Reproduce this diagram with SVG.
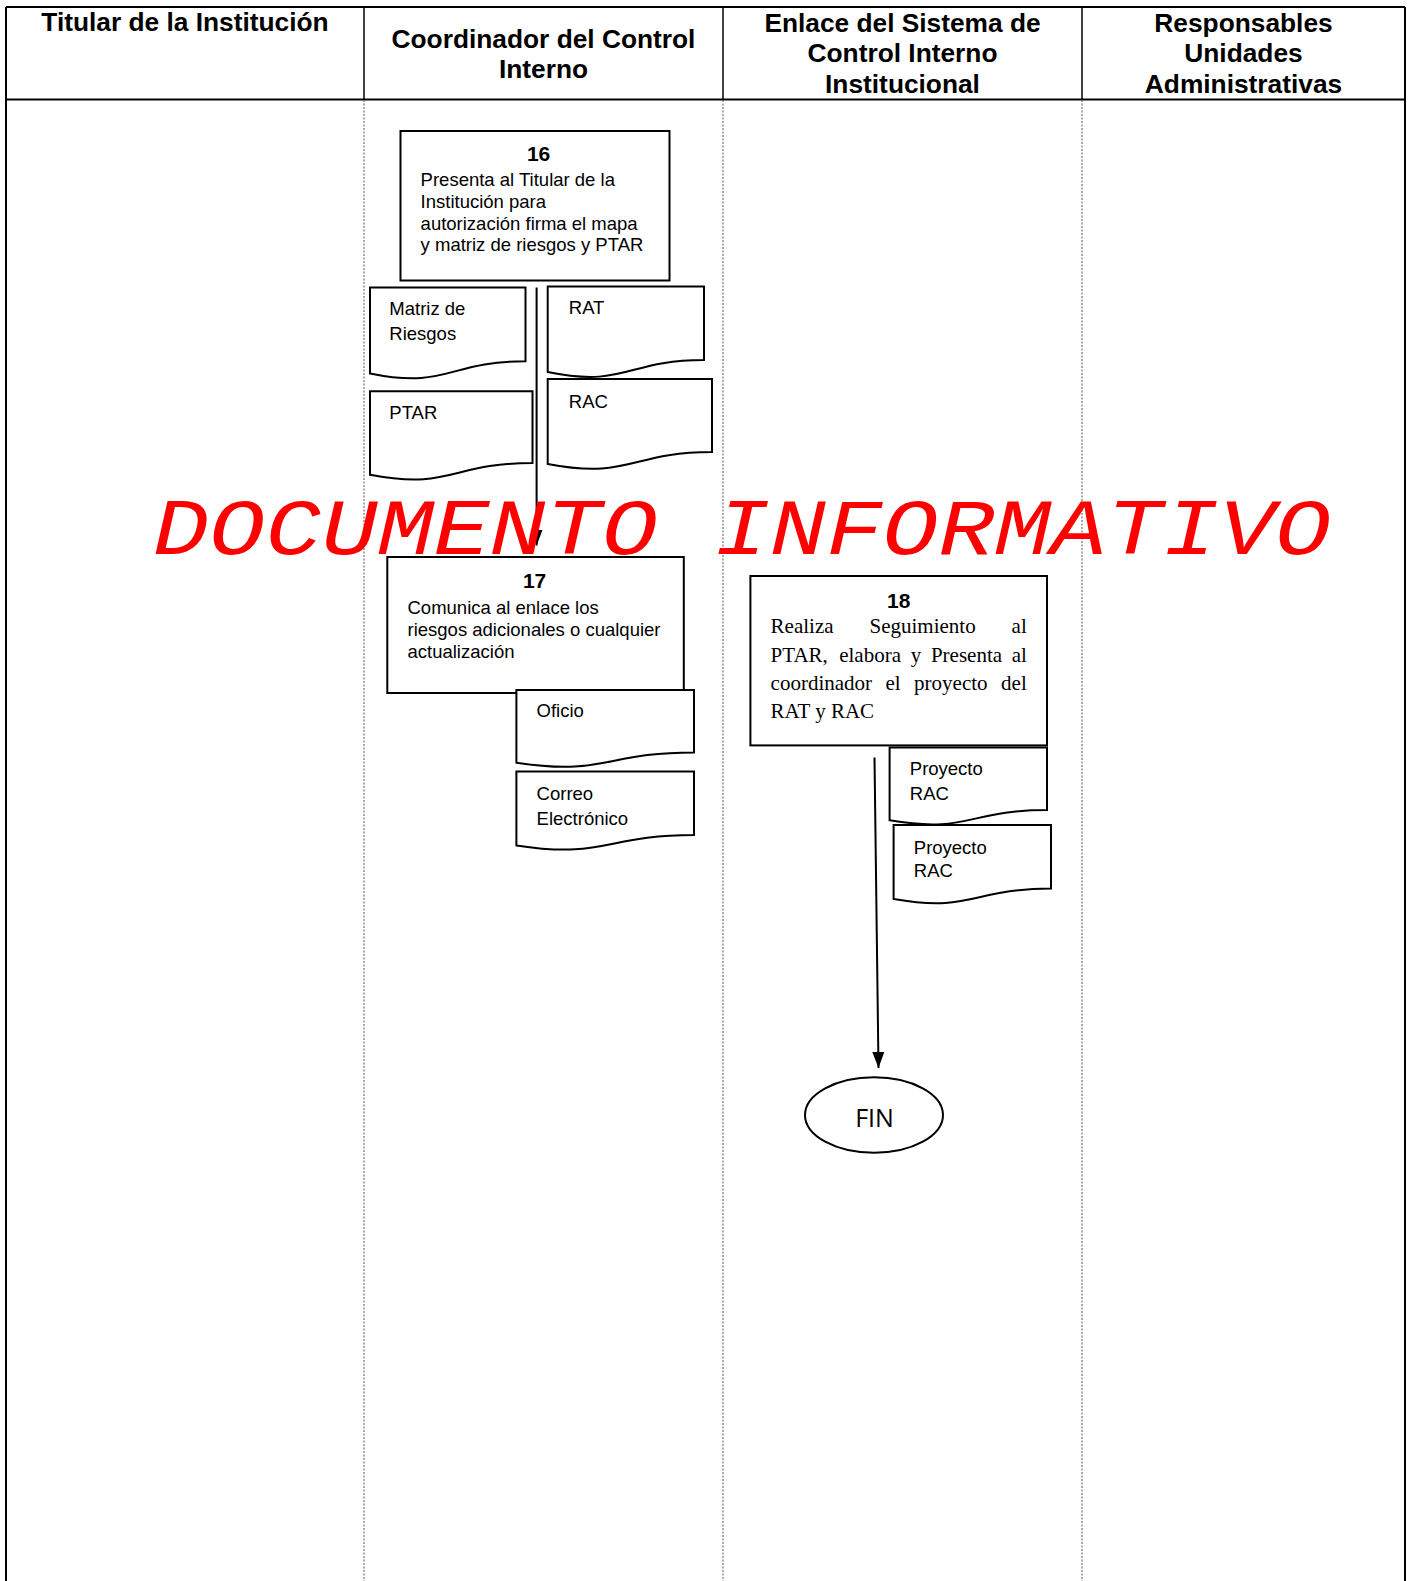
<svg xmlns="http://www.w3.org/2000/svg" width="1411" height="1581" viewBox="0 0 1411 1581">
<style>
.hd{font-family:"Liberation Sans",Arial,sans-serif;font-weight:bold;font-size:26.3px;fill:#000;text-anchor:middle}
.num{font-family:"Liberation Sans",Arial,sans-serif;font-weight:bold;font-size:21px;fill:#000;text-anchor:middle}
.tx{font-family:"Liberation Sans",Arial,sans-serif;font-size:18.5px;fill:#000}
.tr{font-family:"Liberation Serif","Times New Roman",serif;font-size:21px;fill:#000}
.box{fill:#fff;stroke:#000;stroke-width:2}
.doc{fill:#fff;stroke:#000;stroke-width:2}
.lane{stroke:#555;stroke-width:1;stroke-dasharray:2 1.5}
.border{stroke:#000;stroke-width:2;fill:none}
.conn{stroke:#000;stroke-width:2;fill:none}
.wm{font-family:"Liberation Mono","Courier New",monospace;font-style:italic;font-size:93.5px;fill:#ff0000}
</style>
<defs>
<marker id="arr" viewBox="0 0 16 12" refX="16" refY="6" markerWidth="16" markerHeight="12" markerUnits="userSpaceOnUse" orient="auto">
<path d="M0,0 L16,6 L0,12 z" fill="#000"/>
</marker>
</defs>
<rect width="1411" height="1581" fill="#fff"/>
<g id="table">
<line class="border" x1="6" y1="7" x2="1405" y2="7"/>
<line class="border" x1="6" y1="7" x2="6" y2="1581"/>
<line class="border" x1="1405" y1="7" x2="1405" y2="1581"/>
<line class="border" x1="6" y1="99.5" x2="1405" y2="99.5"/>
<line class="border" x1="364" y1="7" x2="364" y2="99.5" style="stroke-width:1.5"/>
<line class="border" x1="723" y1="7" x2="723" y2="99.5" style="stroke-width:1.5"/>
<line class="border" x1="1082" y1="7" x2="1082" y2="99.5" style="stroke-width:1.5"/>
<line class="lane" x1="364" y1="100" x2="364" y2="1581"/>
<line class="lane" x1="723" y1="100" x2="723" y2="1581"/>
<line class="lane" x1="1082" y1="100" x2="1082" y2="1581"/>
<text class="hd" x="185" y="31">Titular de la Institución</text>
<text class="hd" x="543.5" y="47.5">Coordinador del Control</text>
<text class="hd" x="543.5" y="78">Interno</text>
<text class="hd" x="902.5" y="31.5">Enlace del Sistema de</text>
<text class="hd" x="902.5" y="62">Control Interno</text>
<text class="hd" x="902.5" y="92.5">Institucional</text>
<text class="hd" x="1243.5" y="31.5">Responsables</text>
<text class="hd" x="1243.5" y="62">Unidades</text>
<text class="hd" x="1243.5" y="92.5">Administrativas</text>
</g>
<g id="connectors">
<line class="conn" x1="536.6" y1="287.5" x2="536.6" y2="545.5" marker-end="url(#arr)"/>
<line class="conn" x1="874.5" y1="757.5" x2="878.5" y2="1068" marker-end="url(#arr)"/>
</g>
<g id="n16">
<rect class="box" x="400.5" y="131" width="269" height="149.5"/>
<text class="num" x="538.6" y="161">16</text>
<text class="tx" x="420.6" y="186">Presenta al Titular de la</text>
<text class="tx" x="420.6" y="207.5">Institución para</text>
<text class="tx" x="420.6" y="229.5">autorización firma el mapa</text>
<text class="tx" x="420.6" y="251">y matriz de riesgos y PTAR</text>
</g>
<g id="doc-matriz">
<path class="doc" d="M370,287.5 H525.5 V361.3 C447.7,361.3 447.7,389.4 370,373.4 Z"/>
<text class="tx" x="389.3" y="315">Matriz de</text>
<text class="tx" x="389.3" y="340">Riesgos</text>
</g>
<g id="doc-rat">
<path class="doc" d="M547.7,286.5 H704 V360 C625.9,360 625.9,388 547.7,372 Z"/>
<text class="tx" x="568.8" y="314">RAT</text>
</g>
<g id="doc-ptar">
<path class="doc" d="M370,391.3 H532.5 V463 C451.3,463 451.3,490.3 370,474.8 Z"/>
<text class="tx" x="389.3" y="419">PTAR</text>
</g>
<g id="doc-rac">
<path class="doc" d="M547.7,379 H712 V452 C629.9,452 629.9,479.8 547.7,464 Z"/>
<text class="tx" x="568.8" y="408">RAC</text>
</g>
<g id="n17">
<rect class="box" x="387.3" y="557" width="296.5" height="136"/>
<text class="num" x="534.6" y="588">17</text>
<text class="tx" x="407.5" y="613.5">Comunica al enlace los</text>
<text class="tx" x="407.5" y="636">riesgos adicionales o cualquier</text>
<text class="tx" x="407.5" y="658">actualización</text>
</g>
<g id="doc-oficio">
<path class="doc" d="M516.4,690 H694 V752.4 C605.2,752.4 605.2,776.2 516.4,762.7 Z"/>
<text class="tx" x="536.6" y="716.5">Oficio</text>
</g>
<g id="doc-correo">
<path class="doc" d="M516.4,771.6 H694 V835 C605.2,835 605.2,859.1 516.4,845.4 Z"/>
<text class="tx" x="536.6" y="800">Correo</text>
<text class="tx" x="536.6" y="824.5">Electrónico</text>
</g>
<g id="n18">
<rect class="box" x="750.4" y="576" width="296.6" height="169.4"/>
<text class="num" x="898.7" y="608">18</text>
<text class="tr" y="633"><tspan x="770.6">Realiza</tspan><tspan x="869.5">Seguimiento</tspan><tspan x="1011.6">al</tspan></text>
<text class="tr" y="661.5"><tspan x="770.6">PTAR,</tspan><tspan x="839.2">elabora</tspan><tspan x="910.7">y</tspan><tspan x="930.9">Presenta</tspan><tspan x="1011.7">al</tspan></text>
<text class="tr" y="689.5"><tspan x="770.6">coordinador</tspan><tspan x="885.5">el</tspan><tspan x="914.1">proyecto</tspan><tspan x="1001.1">del</tspan></text>
<text class="tr" x="770.6" y="718">RAT y RAC</text>
</g>
<g id="doc-proy1">
<path class="doc" d="M889.6,747.4 H1047 V810 C968.3,810 968.3,833.8 889.6,820.3 Z"/>
<text class="tx" x="909.8" y="775">Proyecto</text>
<text class="tx" x="909.8" y="800">RAC</text>
</g>
<g id="doc-proy2">
<path class="doc" d="M893.6,825 H1051 V888.6 C972.3,888.6 972.3,912.8 893.6,899 Z"/>
<text class="tx" x="913.8" y="853.7">Proyecto</text>
<text class="tx" x="913.8" y="877">RAC</text>
</g>
<g id="fin">
<ellipse cx="874" cy="1115" rx="69" ry="37.8" fill="#fff" stroke="#000" stroke-width="2"/>
<text x="874.5" y="1127" style="font-family:'Open Sans','Noto Sans',sans-serif;font-size:25px;fill:#000;text-anchor:middle">FIN</text>
</g>
<text class="wm" x="153" y="0" transform="translate(0,554) scale(1,0.86)">DOCUMENTO INFORMATIVO</text>
</svg>
